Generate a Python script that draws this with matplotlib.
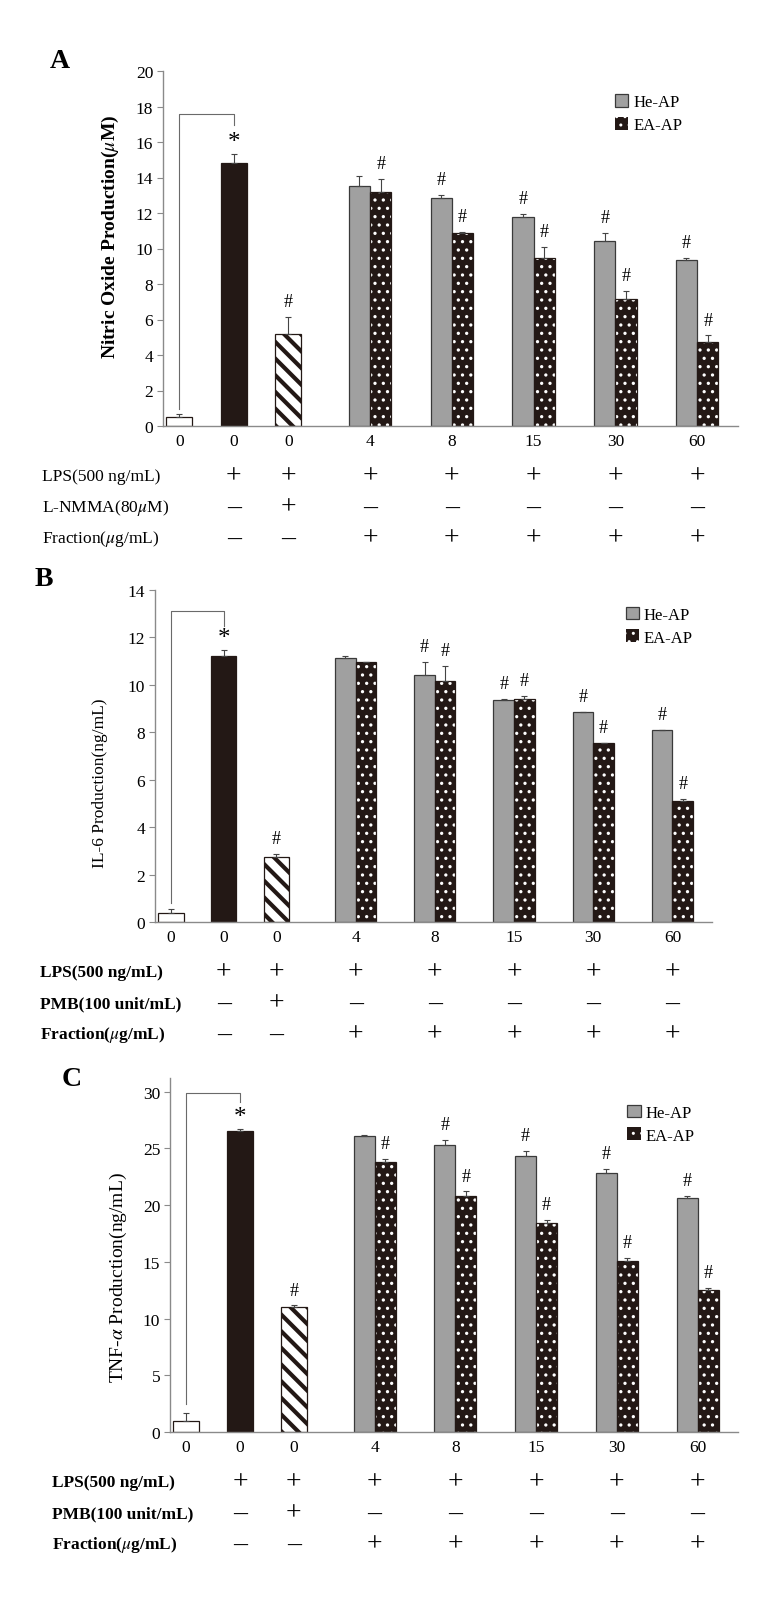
import matplotlib
matplotlib.use('Agg')
import matplotlib.pyplot as plt
from matplotlib.transforms import blended_transform_factory

plt.rcParams['font.family'] = ['Liberation Serif', 'DejaVu Serif']
plt.rcParams['mathtext.fontset'] = 'stix'

# data
doses = ['0', '0', '0', '4', '8', '15', '30', '60']

# A: nitric oxide
a_single = [0.5, 14.8, 5.2]
a_single_err = [0.2, 0.5, 0.95]
a_he = [13.5, 12.85, 11.8, 10.4, 9.35]
a_he_err = [0.6, 0.15, 0.15, 0.5, 0.12]
a_ea = [13.2, 10.9, 9.45, 7.15, 4.75]
a_ea_err = [0.7, 0.05, 0.65, 0.45, 0.35]
a_he_marks = [False, True, True, True, True]
a_ea_marks = [True, True, True, True, True]

# B: IL-6
b_single = [0.4, 11.2, 2.75]
b_single_err = [0.15, 0.25, 0.1]
b_he = [11.15, 10.4, 9.35, 8.85, 8.1]
b_he_err = [0.05, 0.55, 0.05, 0.0, 0.0]
b_ea = [10.95, 10.15, 9.4, 7.55, 5.1]
b_ea_err = [0.0, 0.65, 0.12, 0.0, 0.08]
b_he_marks = [False, True, True, True, True]
b_ea_marks = [False, True, True, True, True]

# C: TNF-alpha
c_single = [1.0, 26.5, 11.0]
c_single_err = [0.7, 0.2, 0.15]
c_he = [26.05, 25.3, 24.3, 22.8, 20.6]
c_he_err = [0.1, 0.4, 0.5, 0.35, 0.2]
c_ea = [23.8, 20.8, 18.4, 15.1, 12.5]
c_ea_err = [0.3, 0.4, 0.3, 0.2, 0.2]
c_he_marks = [False, True, True, True, True]
c_ea_marks = [True, True, True, True, True]

a_rows = [('LPS(500 ng/mL)', ['', '+', '+', '+', '+', '+', '+', '+']),
          (r'L-NMMA(80$\mu$M)', ['', '–', '+', '–', '–', '–', '–', '–']),
          (r'Fraction($\mu$g/mL)', ['', '–', '–', '+', '+', '+', '+', '+'])]
bc_rows = [('LPS(500 ng/mL)', ['', '+', '+', '+', '+', '+', '+', '+']),
           ('PMB(100 unit/mL)', ['', '–', '+', '–', '–', '–', '–', '–']),
           (r'Fraction($\mu$g/mL)', ['', '–', '–', '+', '+', '+', '+', '+'])]

W, H = 768, 1606
dark = '#231815'
gray = '#a0a0a0'
axcol = '#8a8a8a'

fig = plt.figure(figsize=(W / 100, H / 100), dpi=100)


def draw_panel(box, ymax, yticks, single, single_err, he, he_err, ea, ea_err,
               he_marks, ea_marks, bracket, letter, letter_xy, ylabel, ylabel_xy,
               label_weight, label_size, rows, rows_x, rows_weight, legend_xy):
    left, top, right, bottom = box
    ax = fig.add_axes([left / W, 1 - bottom / H, (right - left) / W, (bottom - top) / H])

    sx = [0, 1, 2]
    gx = [3.5 + 1.5 * i for i in range(5)]
    w1 = 0.48
    w2 = 0.39
    hx = [x - w2 / 2 for x in gx]
    ex = [x + w2 / 2 for x in gx]

    ax.bar(sx[0], single[0], w1, color='white', edgecolor=dark, lw=0.9)
    ax.bar(sx[1], single[1], w1, color=dark, edgecolor=dark, lw=0.9)
    hb = ax.bar(sx[2], single[2], w1, color='white', edgecolor=dark, lw=0.9, hatch='\\\\')
    for p in hb:
        if hasattr(p, 'set_hatch_linewidth'):
            p.set_hatch_linewidth(3.0)

    he_bars = ax.bar(hx, he, w2, color=gray, edgecolor='#3a3a3a', lw=0.9)
    ea_bars = ax.bar(ex, ea, w2, color=dark, edgecolor='white', lw=0, hatch='..')
    for p in ea_bars:
        if hasattr(p, 'set_hatch_linewidth'):
            p.set_hatch_linewidth(1.15)
    ax.bar(ex, ea, w2, fill=False, edgecolor=dark, lw=0.9)

    ekw = dict(fmt='none', ecolor='#444444', elinewidth=0.8, capsize=2.5, capthick=0.8)
    ax.errorbar(sx, single, yerr=[[0] * 3, single_err], **ekw)
    ax.errorbar(hx, he, yerr=[[0] * 5, he_err], **ekw)
    ax.errorbar(ex, ea, yerr=[[0] * 5, ea_err], **ekw)

    # significance marks
    ax.annotate('*', (sx[1], single[1] + single_err[1]), xytext=(0, 1), textcoords='offset points',
                ha='center', va='bottom', fontsize=18)
    ax.annotate('#', (sx[2], single[2] + single_err[2]), xytext=(0, 5), textcoords='offset points',
                ha='center', va='bottom', fontsize=13)
    for x, v, e, m in zip(hx, he, he_err, he_marks):
        if m:
            ax.annotate('#', (x, v + e), xytext=(0, 5), textcoords='offset points',
                        ha='center', va='bottom', fontsize=13)
    for x, v, e, m in zip(ex, ea, ea_err, ea_marks):
        if m:
            ax.annotate('#', (x, v + e), xytext=(0, 5), textcoords='offset points',
                        ha='center', va='bottom', fontsize=13)

    # bracket control -> LPS
    ax.plot([sx[0], sx[0], sx[1], sx[1]], [bracket[0], bracket[1], bracket[1], bracket[2]],
            color='#6a6a6a', lw=0.8)

    ax.set_xlim(-0.3, 10.25)
    ax.set_ylim(0, ymax)
    ax.set_yticks(yticks)
    ax.set_xticks(sx + gx)
    ax.set_xticklabels(doses)
    for s in ['top', 'right']:
        ax.spines[s].set_visible(False)
    for s in ['left', 'bottom']:
        ax.spines[s].set_color(axcol)
        ax.spines[s].set_linewidth(1.0)
    ax.tick_params(axis='y', direction='out', length=4, color=axcol, labelsize=12.5, pad=3)
    ax.tick_params(axis='x', length=0, labelsize=12.5, pad=5)

    ax.legend([he_bars, ea_bars], ['He-AP', 'EA-AP'], loc='upper left',
              bbox_to_anchor=legend_xy, frameon=False, fontsize=12, handlelength=0.8,
              handleheight=0.8, handletextpad=0.3, labelspacing=0.4,
              borderaxespad=0, borderpad=0)

    fig.text(letter_xy[0] / W, 1 - letter_xy[1] / H, letter, fontsize=20, fontweight='bold',
             ha='center', va='center')
    fig.text(ylabel_xy[0] / W, 1 - ylabel_xy[1] / H, ylabel, rotation=90, fontsize=label_size,
             fontweight=label_weight, ha='center', va='center')

    # treatment table under the axis
    tr = blended_transform_factory(ax.transData, fig.transFigure)
    for i, (name, marks) in enumerate(rows):
        yy = 1 - (bottom + 50 + 31 * i) / H
        fig.text(rows_x / W, yy, name, fontsize=12.5, fontweight=rows_weight,
                 ha='left', va='center')
        for x, m in zip(sx + gx, marks):
            if m:
                ax.text(x, yy, m, transform=tr, fontsize=20, ha='center', va='center')
    return ax


draw_panel((163, 72, 738, 427), 20, range(0, 21, 2), a_single, a_single_err, a_he, a_he_err,
           a_ea, a_ea_err, a_he_marks, a_ea_marks, (0.95, 17.6, 16.95),
           'A', (60, 62), r'Nitric Oxide Production($\mu$M)', (110, 237), 'bold', 14,
           a_rows, 42, 'normal', (0.786, 0.935))

draw_panel((155, 591, 712, 923), 14, range(0, 15, 2), b_single, b_single_err, b_he, b_he_err,
           b_ea, b_ea_err, b_he_marks, b_ea_marks, (0.8, 13.1, 12.5),
           'B', (44, 580), 'IL-6 Production(ng/mL)', (100, 783), 'normal', 12.5,
           bc_rows, 40, 'bold', (0.845, 0.95))

draw_panel((170, 1079, 738, 1433), 31.2, range(0, 31, 5), c_single, c_single_err, c_he, c_he_err,
           c_ea, c_ea_err, c_he_marks, c_ea_marks, (2.5, 29.9, 29.1),
           'C', (72, 1080), r'TNF-$\alpha$ Production(ng/mL)', (118, 1278), 'normal', 14,
           bc_rows, 52, 'bold', (0.805, 0.925))

fig.savefig('out.png', dpi=100)
